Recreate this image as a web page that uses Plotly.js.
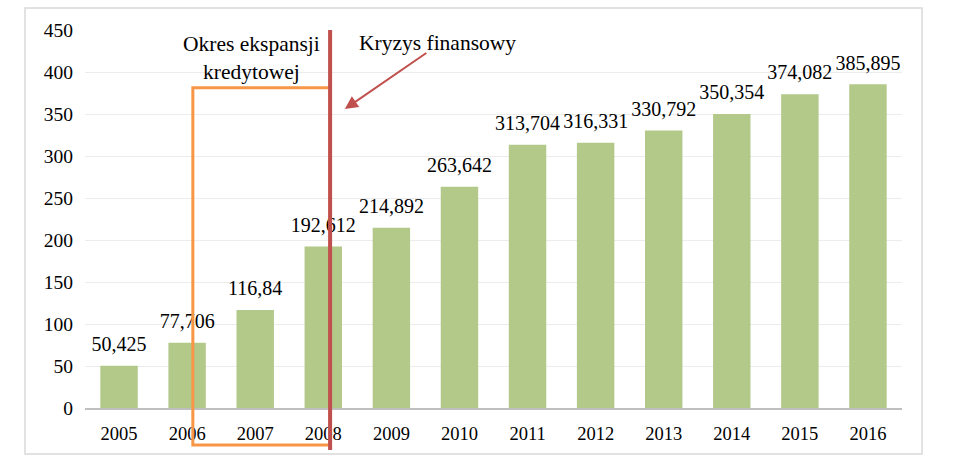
<!DOCTYPE html>
<html><head><meta charset="utf-8">
<script src="https://cdn.plot.ly/plotly-3.0.1.min.js"></script>
<style>html,body{margin:0;padding:0;background:#fff}#chart{width:953px;height:459px}</style>
</head><body><div id="chart"></div>
<script>
var years = ['2005','2006','2007','2008','2009','2010','2011','2012','2013','2014','2015','2016'];
var values = [50.425, 77.706, 116.84, 192.612, 214.892, 263.642, 313.704, 316.331, 330.792, 350.354, 374.082, 385.895];
var labels = ['50,425','77,706','116,84','192,612','214,892','263,642','313,704','316,331','330,792','350,354','374,082','385,895'];
var yTicks = [0,50,100,150,200,250,300,350,400,450];

var font = 'Liberation Serif, Times New Roman, serif';
var bars = {
  type: 'bar', x: years, y: values,
  marker: {color: '#b3c98a'}, hoverinfo: 'none'
};
var texts = {
  type: 'scatter', mode: 'markers+text', x: years, y: values, text: labels,
  textposition: 'top center', cliponaxis: false,
  marker: {size: 14, opacity: 0},
  textfont: {family: font, size: 20, color: '#000'}, hoverinfo: 'none'
};
var layout = {
  width: 953, height: 459,
  margin: {l: 85, r: 51, t: 30, b: 51},
  paper_bgcolor: '#fff', plot_bgcolor: '#fff',
  bargap: 0.45, showlegend: false,
  font: {family: font, size: 18, color: '#000'},
  xaxis: {type: 'category', range: [-0.5, years.length - 0.5], autorange: false,
          showgrid: false, showline: true, linecolor: '#bfbfbf', linewidth: 2,
          ticks: '', tickfont: {family: font, size: 18.5}, ticklabelstandoff: 8},
  yaxis: {range: [0, 450.6], autorange: false, tickvals: yTicks, showgrid: true, gridcolor: '#ececec', gridwidth: 1,
          zeroline: false, ticks: '', tickfont: {family: font, size: 19.5}, ticklabelstandoff: 11},
  shapes: [
    {type: 'rect', xref: 'paper', yref: 'paper', x0: -0.0734, x1: 1.0245, y0: -0.1217, y1: 1.058,
     line: {color: '#d9d9d9', width: 1.5}, fillcolor: 'rgba(0,0,0,0)', layer: 'below'},
    {type: 'rect', xref: 'paper', yref: 'paper', x0: 0.132, x1: 0.300, y0: -0.098, y1: 0.847,
     line: {color: '#f79646', width: 3}, fillcolor: 'rgba(0,0,0,0)'},
    {type: 'line', xref: 'paper', yref: 'paper', x0: 0.300, x1: 0.300, y0: -0.111, y1: 1.0,
     line: {color: '#c0504d', width: 4}}
  ],
  annotations: [
    {xref: 'paper', yref: 'paper', x: 0.204, y: 0.963, xanchor: 'center', yanchor: 'middle',
     text: 'Okres ekspansji', showarrow: false, font: {family: font, size: 21.5}},
    {xref: 'paper', yref: 'paper', x: 0.204, y: 0.889, xanchor: 'center', yanchor: 'middle',
     text: 'kredytowej', showarrow: false, font: {family: font, size: 21.5}},
    {xref: 'paper', yref: 'paper', x: 0.432, y: 0.966, xanchor: 'center', yanchor: 'middle',
     text: 'Kryzys finansowy', showarrow: false, font: {family: font, size: 21.5}},
    {xref: 'paper', yref: 'paper', x: 0.318, y: 0.791, text: '', showarrow: true,
     ax: 83, ay: -57, axref: 'pixel', ayref: 'pixel', arrowcolor: '#c0504d', arrowwidth: 2,
     arrowhead: 2, arrowsize: 1.3}
  ]
};
Plotly.newPlot('chart', [bars, texts], layout, {displayModeBar: false, staticPlot: true});
</script></body></html>
